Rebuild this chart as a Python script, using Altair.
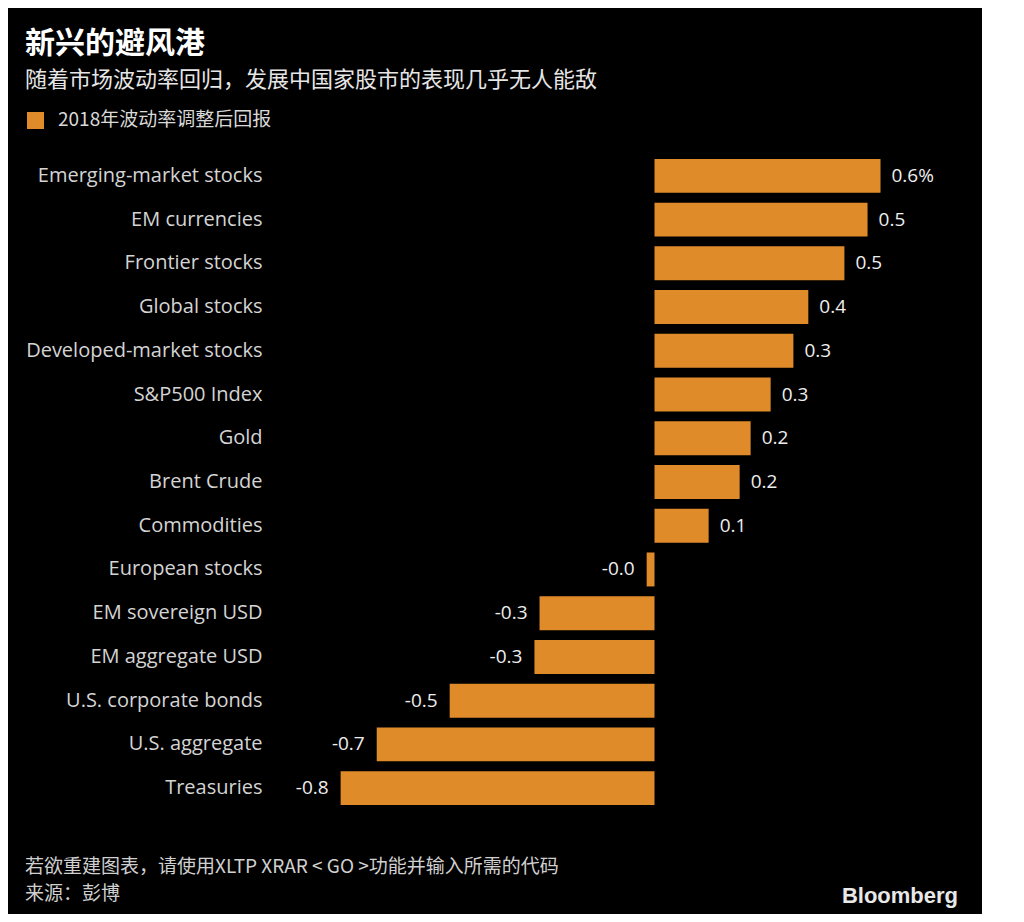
import altair as alt
import pandas as pd

categories = [
    "Emerging-market stocks", "EM currencies", "Frontier stocks", "Global stocks",
    "Developed-market stocks", "S&P500 Index", "Gold", "Brent Crude", "Commodities",
    "European stocks", "EM sovereign USD", "EM aggregate USD", "U.S. corporate bonds",
    "U.S. aggregate", "Treasuries",
]
values = [0.576, 0.543, 0.484, 0.392, 0.354, 0.296, 0.245, 0.217, 0.138,
          -0.020, -0.293, -0.306, -0.522, -0.708, -0.800]
value_labels = ["0.6%", "0.5", "0.5", "0.4", "0.3", "0.3", "0.2", "0.2", "0.1",
                "-0.0", "-0.3", "-0.3", "-0.5", "-0.7", "-0.8"]

title_text = "新兴的避风港"
subtitle_text = "随着市场波动率回归，发展中国家股市的表现几乎无人能敌"
legend_text = "2018年波动率调整后回报"
footer_lines = ["若欲重建图表，请使用XLTP XRAR < GO >功能并输入所需的代码", "来源：彭博"]
logo_text = "Bloomberg"

ORANGE = "#e08b2a"
CJK = "Noto Sans CJK SC"
LATIN = "Open Sans"

df = pd.DataFrame({"category": categories, "value": values, "label": value_labels})
one = pd.DataFrame({"k": [0]})

base = alt.Chart(df)

bars = base.mark_bar(color=ORANGE).encode(
    x=alt.X("value:Q", scale=alt.Scale(domain=[-0.98, 0.72], nice=False, zero=False), axis=None),
    y=alt.Y(
        "category:N",
        sort=categories,
        scale=alt.Scale(paddingInner=0.224, paddingOuter=0.112),
        axis=alt.Axis(
            title=None, domain=False, ticks=False, labelPadding=8,
            labelFont=LATIN, labelFontSize=20, labelColor="#d4d4d4",
            labelLimit=400,
        ),
    ),
)

pos_labels = base.transform_filter("datum.value >= 0").mark_text(
    align="left", baseline="middle", dx=11, font=LATIN, fontSize=19, color="#eeeeee"
).encode(x="value:Q", y=alt.Y("category:N", sort=categories), text="label:N")

neg_labels = base.transform_filter("datum.value < 0").mark_text(
    align="right", baseline="middle", dx=-12, font=LATIN, fontSize=19, color="#eeeeee"
).encode(x="value:Q", y=alt.Y("category:N", sort=categories), text="label:N")

def txt(t, x, y, size, color, font=CJK, weight="normal", align="left"):
    return alt.Chart(one).mark_text(
        text=t, align=align, baseline="alphabetic", font=font, fontSize=size,
        fontWeight=weight, color=color,
    ).encode(x=alt.value(x), y=alt.value(y))

title = txt(title_text, -245, -101, 30, "#ffffff", weight="bold")
subtitle = txt(subtitle_text, -245, -67, 22, "#e6e6e6")
legend_sq = alt.Chart(one).mark_rect(color=ORANGE).encode(
    x=alt.value(-243), x2=alt.value(-226), y=alt.value(-42), y2=alt.value(-25)
)
legend_lbl = txt(legend_text, -212, -28, 19, "#d9d9d9")
foot1 = txt(footer_lines[0], -245, 719, 19, "#d0d0d0")
foot2 = txt(footer_lines[1], -245, 746, 19, "#d0d0d0")
logo = txt(logo_text, 688, 749, 22, "#e8e8e8", font="Liberation Sans", weight="bold", align="right")

chart = alt.layer(
    bars, pos_labels, neg_labels, title, subtitle, legend_sq, legend_lbl, foot1, foot2, logo
).properties(
    width=667, height=656,
    autosize=alt.AutoSizeParams(type="none"),
    padding={"left": 262, "top": 146, "right": 45, "bottom": 104},
    background="#000000",
).configure_view(strokeWidth=0)

chart.save("out.html", embed_options={"renderer": "svg", "actions": False})
